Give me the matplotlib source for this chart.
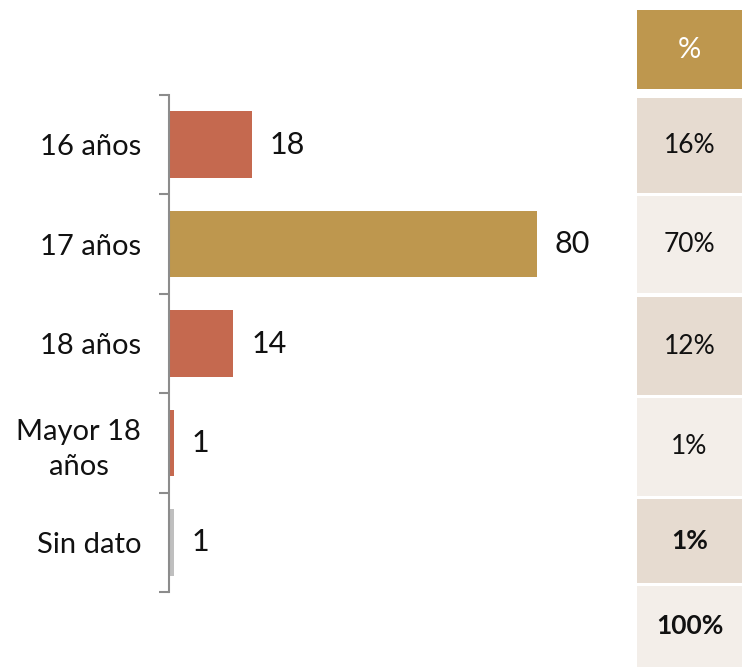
import matplotlib
matplotlib.use("Agg")
import matplotlib.pyplot as plt
from matplotlib.patches import Rectangle
import numpy as np

plt.rcParams['font.family'] = ['Lato', 'DejaVu Sans']

categories = ["16 años", "17 años", "18 años", "Mayor 18\naños", "Sin dato"]
values = [18, 80, 14, 1, 1]
bar_colors = ["#C5694F", "#BE974E", "#C5694F", "#C5694F", "#BFBFBF"]
pct_header = "%"
pct_labels = ["16%", "70%", "12%", "1%", "1%", "100%"]
pct_bold = [False, False, False, False, True, True]
row_colors = ["#E6DBD0", "#F3EEE9", "#E6DBD0", "#F3EEE9", "#E6DBD0", "#F3EEE9"]

W, H = 742, 667
fig = plt.figure(figsize=(W / 100, H / 100), dpi=100)

# bar chart axes
ax_left, ax_right = 169, 629
ax_top, ax_bot = 95, 592
ax = fig.add_axes([ax_left / W, 1 - ax_bot / H, (ax_right - ax_left) / W, (ax_bot - ax_top) / H])
y = np.arange(len(categories))
ax.barh(y, values, height=0.67, color=bar_colors)
ax.set_xlim(0, 100)
ax.set_ylim(len(categories) - 0.5, -0.5)
ax.set_yticks(y)
ax.set_yticklabels(categories, fontsize=21, color="#111111", multialignment="center", linespacing=1.4)
ax.tick_params(axis="y", which="major", length=0, pad=20)
ax.set_yticks(np.arange(-0.5, len(categories), 1), minor=True)
ax.tick_params(axis="y", which="minor", length=7, width=1.5, color="#8C8C8C", direction="out")
ax.set_xticks([])
for s in ["top", "right", "bottom"]:
    ax.spines[s].set_visible(False)
ax.spines["left"].set_color("#8C8C8C")
ax.spines["left"].set_linewidth(1.5)
for yi, v in zip(y, values):
    ax.annotate(str(v), xy=(v, yi), xytext=(18, 0), textcoords="offset pixels",
                va="center", ha="left", fontsize=22, color="#111111")

# table on the right
tx0, tx1 = 637, 742
rows = [(10, 89), (98, 193), (196, 293), (297, 395), (398, 496), (499, 583), (586, 667)]
def add_cell(r, color, text, tcolor, bold, size=19):
    y0, y1 = r
    fig.patches.append(Rectangle((tx0 / W, 1 - y1 / H), (tx1 - tx0) / W, (y1 - y0) / H,
                                 transform=fig.transFigure, facecolor=color, edgecolor="none"))
    fig.text((tx0 + tx1) / 2 / W, 1 - (y0 + y1) / 2 / H, text, ha="center", va="center",
             fontsize=size, color=tcolor, fontweight="bold" if bold else "normal")

add_cell(rows[0], "#BE974E", pct_header, "white", False, size=21)
for r, c, t, b in zip(rows[1:], row_colors, pct_labels, pct_bold):
    add_cell(r, c, t, "#111111", b)

fig.savefig("out.png", dpi=100)
